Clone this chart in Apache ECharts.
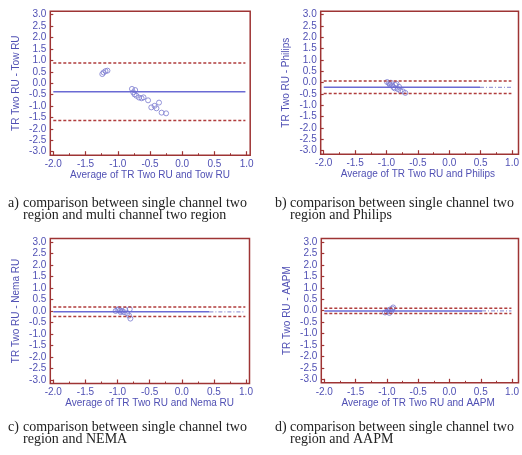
<!DOCTYPE html>
<html>
<head>
<meta charset="utf-8">
<title>Bland-Altman comparison</title>
<script src="https://cdn.jsdelivr.net/npm/echarts@6/dist/echarts.min.js"></script>
<style>
  html, body { margin: 0; padding: 0; background: #fff; }
  #chart { width: 522px; height: 455px; }
</style>
</head>
<body>
<div id="chart"></div>
<script>
// axis ranges and tick labels
const xRange = [-2, 1];
const yRange = [-3, 3];
const tickStep = 0.5;

// axis titles
const xNames = ['Average of TR Two RU and Tow RU', 'Average of TR Two RU and Philips',
                'Average of TR Two RU and Nema RU', 'Average of TR Two RU and AAPM'];
const yNames = ['TR Two RU - Tow RU', 'TR Two RU - Philips', 'TR Two RU - Nema RU', 'TR Two RU - AAPM'];

// captions
const capLetters = ['a)', 'b)', 'c)', 'd)'];
const capLines = [
  ['comparison between single channel two', 'region and multi channel two region'],
  ['comparison between single channel two', 'region and Philips'],
  ['comparison between single channel two', 'region and NEMA'],
  ['comparison between single channel two', 'region and AAPM']
];

// mean difference and limits of agreement
const meanDiff = [-0.375, -0.205, -0.035, -0.01];
const upperLimit = [0.88, 0.07, 0.17, 0.11];
const lowerLimit = [-1.63, -0.48, -0.24, -0.13];
const lineStart = [-2.0, -2.0, -2.0, -2.0];
const lineEnd = [0.98, 0.99, 0.99, 0.99];
const solidEnd = [0.98, 0.49, 0.43, 0.52];

// scatter points [average, difference]
const ptsA = [
  [-1.24, 0.40], [-1.22, 0.47], [-1.19, 0.53], [-1.16, 0.55],
  [-0.78, -0.25], [-0.73, -0.30], [-0.76, -0.40], [-0.74, -0.49], [-0.71, -0.55],
  [-0.67, -0.63], [-0.63, -0.66], [-0.60, -0.62], [-0.53, -0.75], [-0.48, -1.06],
  [-0.43, -0.99], [-0.40, -1.10], [-0.36, -0.85], [-0.32, -1.29], [-0.25, -1.32]
];
const ptsB = [
  [-0.99, 0.03], [-0.96, -0.02], [-0.93, 0.00], [-0.95, -0.08], [-0.91, -0.12],
  [-0.89, -0.20], [-0.87, -0.25], [-0.86, -0.10], [-0.84, -0.05], [-0.82, -0.28],
  [-0.80, -0.18], [-0.78, -0.35], [-0.74, -0.38], [-0.70, -0.45]
];
const ptsC = [
  [-1.03, 0.00], [-1.00, 0.05], [-0.98, 0.08], [-0.96, 0.02], [-0.95, -0.05],
  [-0.93, 0.00], [-0.90, -0.05], [-0.88, 0.05], [-0.85, -0.10], [-0.82, -0.20],
  [-0.81, 0.08], [-0.80, -0.33]
];
const ptsD = [
  [-1.03, -0.08], [-1.00, -0.05], [-0.98, 0.00], [-0.96, -0.10], [-0.95, 0.05],
  [-0.93, -0.02], [-0.91, 0.08], [-0.90, 0.14]
];
const points = [ptsA, ptsB, ptsC, ptsD];

// plot boxes (data area) for each panel
const boxes = [
  { left: 53.3, top: 14.7, width: 193.4, height: 137 },
  { left: 323.7, top: 14.7, width: 191.3, height: 136 },
  { left: 53.3, top: 242, width: 192.7, height: 138 },
  { left: 324.3, top: 242, width: 190.7, height: 137.3 }
];
const capPos = [[8, 196], [275, 196], [8, 420], [275, 420]];
const xNameGap = [15, 15, 14, 15.5];

const blue = '#5050b4';
const frameRed = '#9e3434';
const limitRed = '#b03c3c';
const meanBlue = '#6a6ad4';
const font = '"Liberation Sans", Arial, sans-serif';
const serif = '14px "Liberation Serif", serif';

const chart = echarts.init(document.getElementById('chart'));

const grids = [], xAxes = [], yAxes = [], series = [], graphic = [];

boxes.forEach((b, i) => {
  // data grid
  grids.push({ left: b.left, top: b.top, width: b.width, height: b.height });
  // frame grid
  grids.push({
    left: b.left - 3, top: b.top - 3.5, width: b.width + 6.5, height: b.height + 7,
    show: true, borderColor: frameRed, borderWidth: 1.5, backgroundColor: 'transparent'
  });
  const g = i * 2;
  xAxes.push({
    gridIndex: g, type: 'value', min: xRange[0], max: xRange[1], interval: tickStep,
    offset: 3.5,
    name: xNames[i], nameLocation: 'middle', nameGap: xNameGap[i],
    nameTextStyle: { color: blue, fontSize: 10, fontFamily: font },
    axisLine: { show: false, onZero: false },
    axisTick: { show: true, inside: true, length: 4, lineStyle: { color: frameRed, width: 1.2 } },
    minorTick: { show: true, splitNumber: 2, length: 2, lineStyle: { color: frameRed } },
    splitLine: { show: false },
    axisLabel: { color: blue, fontSize: 10, fontFamily: font, margin: 4,
      formatter: v => v.toFixed(1) }
  });
  yAxes.push({
    gridIndex: g, type: 'value', min: yRange[0], max: yRange[1], interval: tickStep,
    offset: 3,
    name: yNames[i], nameLocation: 'middle', nameGap: 29,
    nameTextStyle: { color: blue, fontSize: 10, fontFamily: font },
    axisLine: { show: false, onZero: false },
    axisTick: { show: true, inside: true, length: 3, lineStyle: { color: frameRed, width: 1.2 } },
    splitLine: { show: false },
    axisLabel: { color: blue, fontSize: 10, fontFamily: font, margin: 4,
      formatter: v => v.toFixed(1) }
  });
  xAxes.push({ gridIndex: g + 1, type: 'value', show: false });
  yAxes.push({ gridIndex: g + 1, type: 'value', show: false });

  // limits of agreement
  [upperLimit[i], lowerLimit[i]].forEach(v => {
    series.push({
      type: 'line', xAxisIndex: g, yAxisIndex: g, symbol: 'none', silent: true,
      data: [[lineStart[i], v], [lineEnd[i], v]],
      lineStyle: { color: limitRed, width: 1.5, type: [3, 2] }
    });
  });
  // mean line
  series.push({
    type: 'line', xAxisIndex: g, yAxisIndex: g, symbol: 'none', silent: true,
    data: [[lineStart[i], meanDiff[i]], [solidEnd[i], meanDiff[i]]],
    lineStyle: { color: meanBlue, width: 1.5 }
  });
  if (solidEnd[i] < lineEnd[i]) {
    series.push({
      type: 'line', xAxisIndex: g, yAxisIndex: g, symbol: 'none', silent: true,
      data: [[solidEnd[i], meanDiff[i]], [lineEnd[i], meanDiff[i]]],
      lineStyle: { color: '#9d9dd8', width: 1.2, type: [4, 2, 1, 2] }
    });
  }
  // points
  series.push({
    type: 'scatter', xAxisIndex: g, yAxisIndex: g,
    symbol: 'circle', symbolSize: 5,
    data: points[i],
    itemStyle: { color: 'rgba(0,0,0,0)', borderColor: '#7a7ad0', borderWidth: 1 }
  });

  // caption
  graphic.push({
    type: 'text', left: capPos[i][0], top: capPos[i][1],
    style: { text: capLetters[i], font: serif, fill: '#222' }
  });
  graphic.push({
    type: 'text', left: capPos[i][0] + 15, top: capPos[i][1],
    style: { text: capLines[i].join('\n'), font: serif, fill: '#222', lineHeight: 12.5 }
  });
});

const option = {
  animation: false,
  grid: grids,
  xAxis: xAxes,
  yAxis: yAxes,
  series: series,
  graphic: graphic
};

chart.setOption(option);
</script>
</body>
</html>
